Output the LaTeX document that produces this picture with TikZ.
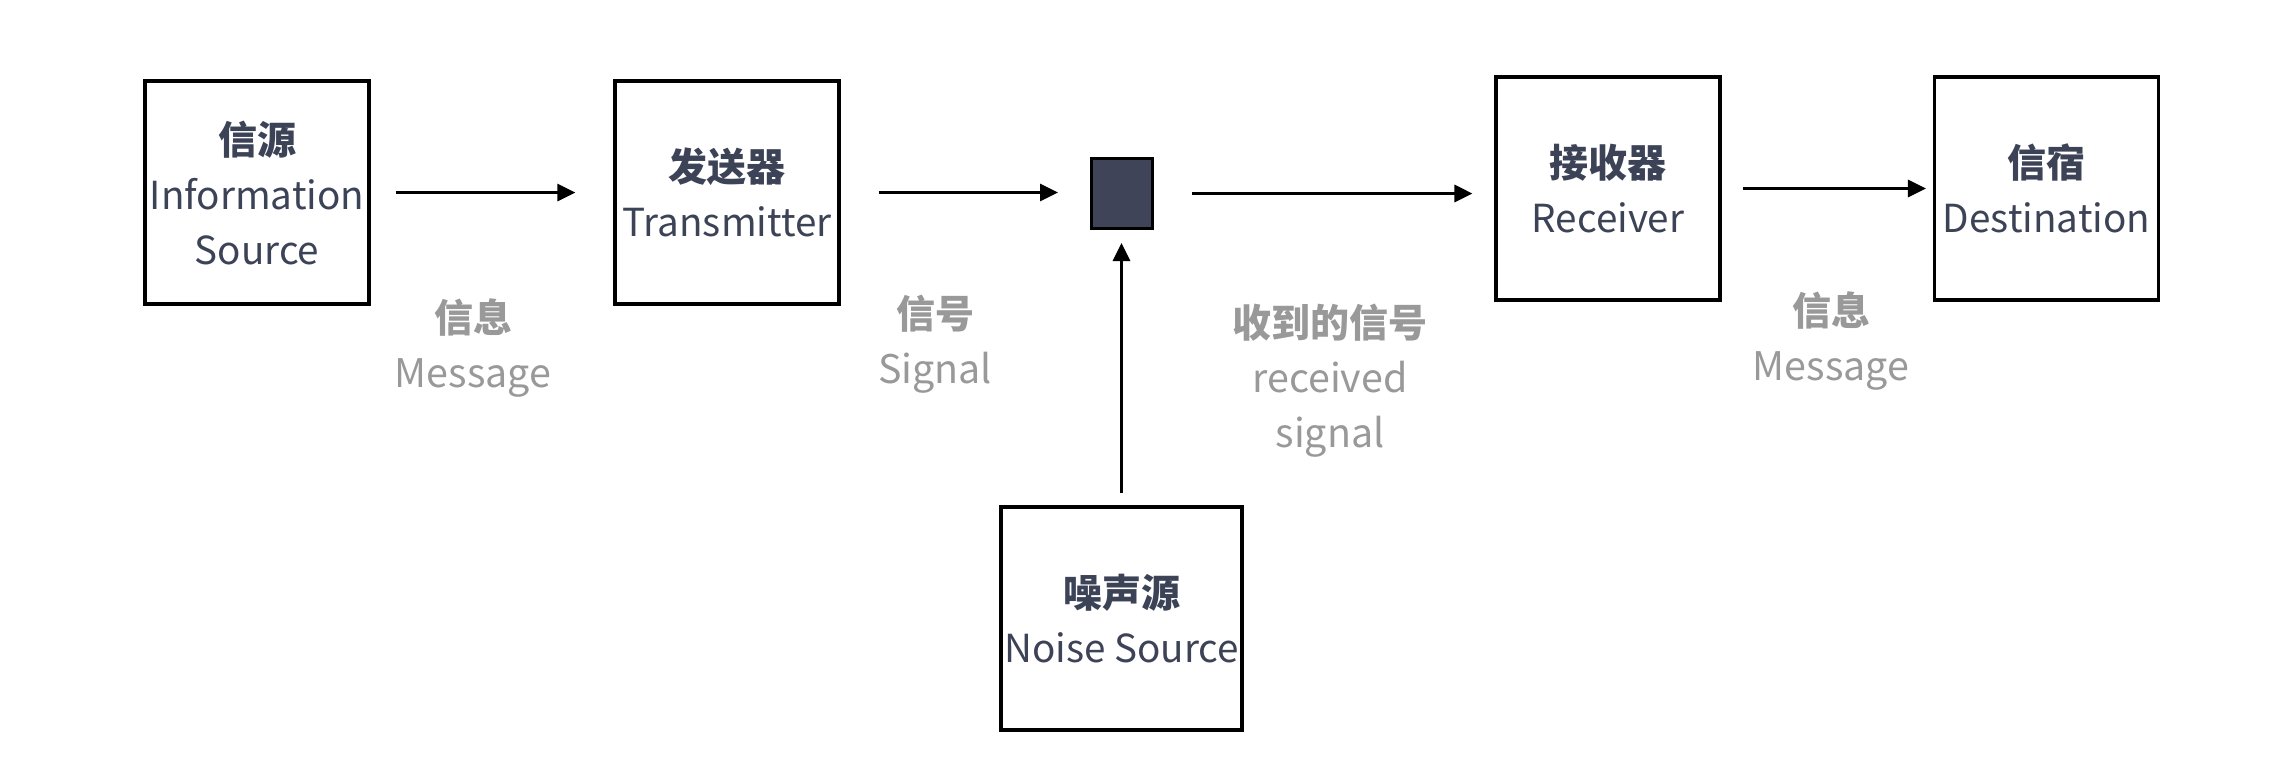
\documentclass[tikz,border=0pt]{standalone}
\usepackage{fontspec}
\setmainfont{Noto Sans CJK SC}
\usetikzlibrary{arrows.meta}
\definecolor{ink}{HTML}{3D4357}
\definecolor{sqfill}{HTML}{3F4459}
\definecolor{lab}{HTML}{999999}
\newcommand{\cnb}{\fontsize{19.5pt}{27.5pt}\selectfont\bfseries}
\begin{document}
\begin{tikzpicture}[x=0.5pt,y=-0.5pt,
  box/.style={draw=black,line width=1.6pt,minimum width=112pt,minimum height=111.5pt,inner sep=0pt,align=center,text=ink,font=\fontsize{19.3pt}{27.5pt}\selectfont},
  lbl/.style={align=center,text=lab,inner sep=0pt,font=\fontsize{19.7pt}{27.5pt}\selectfont},
  arr/.style={line width=1.5pt,-{Triangle[length=9pt,width=8.5pt]}}]
\useasboundingbox (0,0) rectangle (2284,778);
\fill[white] (0,0) rectangle (2284,778);
\node[box] (src) at (257,192.5) {{\cnb 信源}\\Information\\Source};
\node[box] (tx) at (727,192.5) {{\cnb 发送器}\\Transmitter};
\node[draw=black,line width=1.5pt,fill=sqfill,minimum width=30.5pt,minimum height=35pt,inner sep=0pt] (ch) at (1122,193.5) {};
\node[box] (rx) at (1608,188.5) {{\cnb 接收器}\\Receiver};
\node[box] (dst) at (2046.5,188.5) {{\cnb 信宿}\\Destination};
\node[box,minimum width=120.5pt] (noise) at (1121.5,618.5) {{\cnb 噪声源}\\Noise Source};
\draw[arr,shorten <=12.5pt,shorten >=19pt] (src.east) -- (tx.west);
\draw[arr,shorten <=19pt,shorten >=16pt] (tx.east) -- (tx.east -| ch.west);
\draw[arr,shorten <=19pt,shorten >=11pt] (ch.east) -- (ch.east -| rx.west);
\draw[arr,shorten <=10.5pt,shorten >=3.5pt] (rx.east) -- (dst.west);
\draw[arr,shorten <=6pt,shorten >=6.5pt] (noise.north) -- (noise.north |- ch.south);
\node[lbl] (m1) at (473,348) {{\cnb 信息}\\Message};
\node[lbl] (s1) at (935,344) {{\cnb 信号}\\Signal};
\node[lbl] (r1) at (1330,381) {{\cnb 收到的信号}\\received\\signal};
\node[lbl] (m2) at (1831,341) {{\cnb 信息}\\Message};
\end{tikzpicture}
\end{document}
